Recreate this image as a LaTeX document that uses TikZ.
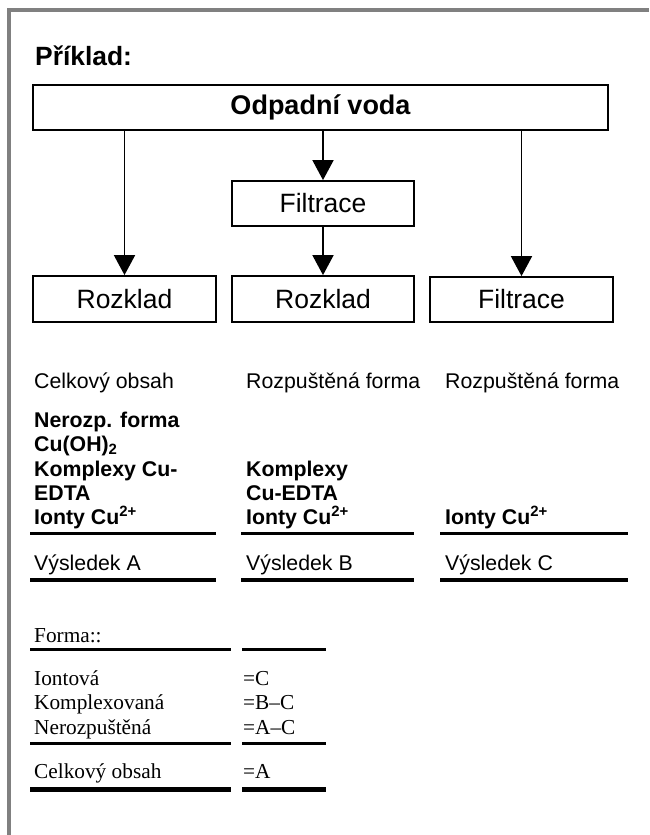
\documentclass[tikz,border=0pt]{standalone}
\usepackage{fontspec}
\setmainfont{Liberation Serif}
\setsansfont{Liberation Sans}
\usetikzlibrary{arrows.meta}
\tikzset{
  boxnode/.style={draw, line width=1.8pt, inner sep=0pt, minimum height=45pt, font=\sffamily\fontsize{26.5}{30}\selectfont},
  conn/.style={line width=1.8pt, -{Triangle[length=20pt,width=21pt]}},
  txt/.style={anchor=base west, inner sep=0pt, font=\sffamily\fontsize{21.3}{24}\selectfont},
  btxt/.style={anchor=base west, inner sep=0pt, font=\sffamily\bfseries\fontsize{21.3}{24}\selectfont},
  stxt/.style={anchor=base west, inner sep=0pt, font=\rmfamily\fontsize{21.3}{24}\selectfont},
  rule/.style={line width=3pt},
  thickrule/.style={line width=4pt},
  heavyrule/.style={line width=5pt},
}
\begin{document}
\begin{tikzpicture}[x=1pt,y=-1pt]
\useasboundingbox (0,0) rectangle (649,835);
% frame
\draw[line width=3.5pt, color={rgb,255:red,128;green,128;blue,128}] (9,835) -- (9,10) -- (649,10);
% title
\node[anchor=base west, inner sep=0pt, font=\sffamily\bfseries\fontsize{26.4}{30}\selectfont] (title) at (35,65) {Příklad:};
% boxes
\node[boxnode, minimum width=575pt, font=\sffamily\bfseries\fontsize{27}{30}\selectfont] (top) at (320.5,107.5) {Odpadní voda};
\node[boxnode, minimum width=182pt] (filt) at (323,203.5) {Filtrace};
\node[boxnode, minimum width=183pt, minimum height=46pt] (r1) at (124.5,299) {Rozklad};
\node[boxnode, minimum width=182pt, minimum height=46pt] (r2) at (323,299) {Rozklad};
\node[boxnode, minimum width=183pt] (r3) at (521.5,299.5) {Filtrace};
% connectors
\draw[conn] (top.south -| r1.north) -- (r1.north);
\draw[conn] (top.south -| filt.north) -- (filt.north);
\draw[conn] (filt.south) -- (r2.north);
\draw[conn] (top.south -| r3.north) -- (r3.north);
% column headings
\node[txt] (h1) at (34,388) {Celkový obsah};
\node[txt] (h2) at (246,388) {Rozpuštěná forma};
\node[txt] (h3) at (445,388) {Rozpuštěná forma};
% bold content
\node[btxt] (a1) at (34,427) {Nerozp. forma};
\node[btxt] (a2) at (34,451) {Cu(OH)\textsubscript{2}};
\node[btxt] (a3) at (34,476) {Komplexy Cu-};
\node[btxt] (a4) at (34,500) {EDTA};
\node[btxt] (a5) at (34,524) {Ionty Cu\textsuperscript{2+}};
\node[btxt] (b1) at (246,476) {Komplexy};
\node[btxt] (b2) at (246,500) {Cu-EDTA};
\node[btxt] (b3) at (246,524) {Ionty Cu\textsuperscript{2+}};
\node[btxt] (c1) at (445,524) {Ionty Cu\textsuperscript{2+}};
\draw[rule] (30,533) -- (216,533);
\draw[rule] (241,533) -- (414,533);
\draw[rule] (440,533) -- (628,533);
% results
\node[txt] (ra) at (34,570) {Výsledek A};
\node[txt] (rb) at (246,570) {Výsledek B};
\node[txt] (rc) at (445,570) {Výsledek C};
\draw[thickrule] (30,580) -- (216,580);
\draw[thickrule] (241,580) -- (414,580);
\draw[thickrule] (440,580) -- (628,580);
% bottom table
\node[stxt] (f0) at (34,642) {Forma::};
\draw[rule] (30,649) -- (231,649);
\draw[rule] (242,649) -- (326,649);
\node[stxt] (f1) at (34,685) {Iontová};
\node[stxt] (g1) at (243,685) {=C};
\node[stxt] (f2) at (34,709) {Komplexovaná};
\node[stxt] (g2) at (243,709) {=B–C};
\node[stxt] (f3) at (34,734) {Nerozpuštěná};
\node[stxt] (g3) at (243,734) {=A–C};
\draw[rule] (30,743) -- (231,743);
\draw[rule] (242,743) -- (326,743);
\node[stxt] (f4) at (34,778) {Celkový obsah};
\node[stxt] (g4) at (243,778) {=A};
\draw[heavyrule] (30,789) -- (231,789);
\draw[heavyrule] (242,789) -- (326,789);
\end{tikzpicture}
\end{document}
